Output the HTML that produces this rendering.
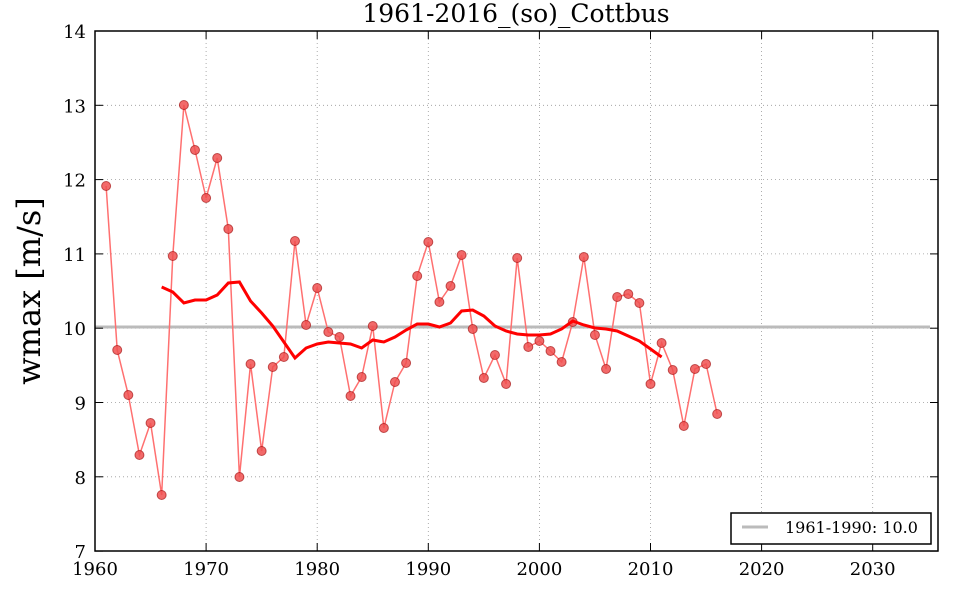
<!DOCTYPE html>
<html><head><meta charset="utf-8"><style>
html,body{margin:0;padding:0;background:#fff;}
svg{display:block;font-family:"DejaVu Serif","Liberation Serif",serif;}
</style></head><body>
<svg id="s" width="960" height="600" viewBox="0 0 960 600" xmlns="http://www.w3.org/2000/svg">
<rect width="960" height="600" fill="#fff"/>
<g id="grid" stroke="#999" stroke-width="0.8" stroke-dasharray="1,3"></g>
<line x1="95" y1="327" x2="930" y2="327" stroke="#bbb" stroke-width="3"/>
<polyline id="raw" fill="none" stroke="#ff7070" stroke-width="1.5"/>
<g id="pts"></g>
<polyline id="ma" fill="none" stroke="#ff0000" stroke-width="3"/>
<rect x="95" y="31" width="843" height="520" fill="none" stroke="#000" stroke-width="1.5"/>
<g id="ticks" stroke="#000" stroke-width="1"></g>
<g id="labels" font-size="18" fill="#000"></g>
<text x="516" y="22" text-anchor="middle" font-size="25">1961-2016_(so)_Cottbus</text>
<text transform="translate(40,291) rotate(-90)" text-anchor="middle" font-size="32">wmax [m/s]</text>
<rect x="731" y="513" width="200" height="31" fill="#fff" stroke="#000" stroke-width="1.5"/>
<line x1="742" y1="527" x2="768" y2="527" stroke="#bbb" stroke-width="3"/>
<text x="785" y="533" font-size="16">1961-1990: 10.0</text>
</svg>
<script>
var X=function(y){return 95+(y-1960)*11.11;};
var Y=function(v){return 31+(14-v)*74.3;};
var g=document.getElementById('grid'),t=document.getElementById('ticks'),l=document.getElementById('labels');
var ns="http://www.w3.org/2000/svg";
function el(p,n,a,txt){var e=document.createElementNS(ns,n);for(var k in a)e.setAttribute(k,a[k]);if(txt)e.textContent=txt;p.appendChild(e);}
for(var yr=1960;yr<=2030;yr+=10){var x=X(yr);
 if(yr>1960)el(g,'line',{x1:x,y1:31,x2:x,y2:551});
 el(t,'line',{x1:x,y1:551,x2:x,y2:543});el(t,'line',{x1:x,y1:31,x2:x,y2:39});
 el(l,'text',{x:x,y:575,'text-anchor':'middle'},String(yr));}
for(var v=7;v<=14;v++){var y=Y(v);
 if(v>7&&v<14)el(g,'line',{x1:95,y1:y,x2:938,y2:y});
 el(t,'line',{x1:95,y1:y,x2:103,y2:y});el(t,'line',{x1:938,y1:y,x2:930,y2:y});
 el(l,'text',{x:86,y:y+7,'text-anchor':'end'},String(v));}
var py=[186,350,395,455,423,495,256,105,150,198,158,229,477,364,451,367,357,241,325,288,332,337,396,377,326,428,382,363,276,242,302,286,255,329,378,355,384,258,347,341,351,362,322,257,335,369,297,294,303,384,343,370,426,369,364,414];
var pts=[],pg=document.getElementById('pts');
py.forEach(function(y,i){var x=X(1961+i);pts.push(x+','+y);el(pg,'circle',{cx:x,cy:y,r:4.5,fill:'#f05050','fill-opacity':0.85,stroke:'#900','stroke-opacity':0.6,'stroke-width':1});});
document.getElementById('raw').setAttribute('points',pts.join(' '));
var ma=[287,292,303,300,300,295,283,282,301,313,326,342,358,348,344,342,343,344,348,340,342,337,330,324,324,327,323,311,310,316,326,331,334,335,335,334,329,321,325,328,329,331,336,341,349,357];
document.getElementById('ma').setAttribute('points',ma.map(function(y,i){return X(1966+i)+','+y;}).join(' '));
</script>
</body></html>
